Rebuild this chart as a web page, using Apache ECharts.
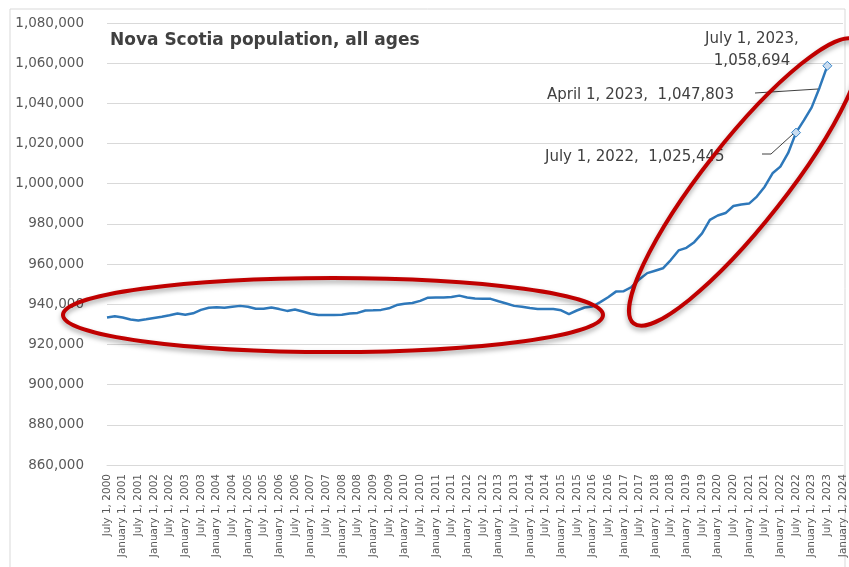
<!DOCTYPE html>
<html><head><meta charset="utf-8">
<script src="https://cdn.jsdelivr.net/npm/echarts@6/dist/echarts.min.js"></script>
<style>html,body{margin:0;padding:0;background:#fff}#c{width:849px;height:567px}</style>
</head><body><div id="c"></div>
<script>
// Quarterly categories: July 1, 2000 ... January 1, 2024
var quarterMonths = ['July', 'October', 'January', 'April'];
var categories = [];
for (var k = 0; k < 95; k++) {
  var m = quarterMonths[k % 4];
  var yr = 2000 + Math.floor((k + 2) / 4);
  categories.push(m + ' 1, ' + yr);
}
var population = [
  933400, 934000, 933400, 932400, 931900, 932500, 933200, 933800, 934500, 935400,
  934800, 935500, 937200, 938300, 938500, 938300, 938800, 939200, 938800, 937800,
  937800, 938400, 937600, 936700, 937400, 936400, 935300, 934700, 934700, 934700,
  934800, 935400, 935700, 936900, 937000, 937200, 938000, 939600, 940300, 940600,
  941700, 943300, 943400, 943400, 943600, 944300, 943400, 942900, 942800, 942700,
  941500, 940400, 939200, 938800, 938100, 937700, 937600, 937600, 937000, 935100,
  936900, 938400, 938900, 941100, 943500, 946300, 946500, 948600, 952500, 955500,
  956700, 957900, 962000, 966800, 968100, 970900, 975300, 982000, 984200, 985400,
  988900, 989700, 990100, 993600, 998500, 1005200, 1008500, 1015300, 1025445, 1031500,
  1038000, 1047803, 1058694, null, null
];
var markedIndices = [88, 91, 92];
var annotationTexts = ['July 1, 2023,\n1,058,694', 'April 1, 2023,  1,047,803', 'July 1, 2022,  1,025,445'];
var titleText = 'Nova Scotia population, all ages';
var yMin = 860000, yMax = 1080000, yStep = 20000;

var seriesData = population.map(function (v, i) {
  if (markedIndices.indexOf(i) >= 0) {
    return { value: v, symbol: 'diamond', symbolSize: 9,
      itemStyle: { color: '#c9dcf0', borderColor: '#3a86c8', borderWidth: 1 } };
  }
  return v;
});

var FONT = 'DejaVu Sans';
var chart = echarts.init(document.getElementById('c'), null, { renderer: 'canvas' });
chart.setOption({
  animation: false,
  backgroundColor: '#ffffff',
  title: {
    text: titleText, left: 105, top: 27,
    textStyle: { fontFamily: FONT, fontSize: 17, fontWeight: 'bold', color: '#404040' }
  },
  grid: { left: 107, right: 6, top: 23, bottom: 102, containLabel: false },
  xAxis: {
    type: 'category', data: categories, boundaryGap: false,
    axisLine: { lineStyle: { color: '#d9d9d9', width: 1 } },
    axisTick: { show: false },
    axisLabel: { interval: 1, rotate: 90, fontFamily: FONT, fontSize: 10.5, color: '#595959', margin: 9 },
    splitLine: { show: false }
  },
  yAxis: {
    type: 'value', min: yMin, max: yMax, interval: yStep,
    axisLine: { show: false }, axisTick: { show: false },
    axisLabel: {
      fontFamily: FONT, fontSize: 13.5, color: '#595959', margin: 23,
      formatter: function (v) { return v.toLocaleString('en-US'); }
    },
    splitLine: { lineStyle: { color: '#d9d9d9', width: 1 } }
  },
  series: [{
    type: 'line', data: seriesData, symbol: 'none', showSymbol: true,
    connectNulls: false,
    lineStyle: { color: '#2e78ba', width: 2.5 },
    itemStyle: { color: '#2e78ba' },
    z: 3
  }],
  graphic: [
    { type: 'rect', shape: { x: 10, y: 9, width: 835, height: 570 }, style: { fill: 'none', stroke: '#d9d9d9', lineWidth: 1 }, silent: true, z: 0 },
    { type: 'text', x: 752, y: 28, style: { text: annotationTexts[0], textAlign: 'center', fontFamily: FONT, fontSize: 15, lineHeight: 22, fill: '#404040' }, z: 10 },
    { type: 'text', x: 547, y: 95, style: { text: annotationTexts[1], textAlign: 'left', textVerticalAlign: 'middle', fontFamily: FONT, fontSize: 15, fill: '#404040' }, z: 10 },
    { type: 'text', x: 545, y: 157, style: { text: annotationTexts[2], textAlign: 'left', textVerticalAlign: 'middle', fontFamily: FONT, fontSize: 15, fill: '#404040' }, z: 10 },
    { type: 'polyline', shape: { points: [[755, 93], [818, 89]] }, style: { stroke: '#404040', lineWidth: 1, fill: 'none' }, z: 10 },
    { type: 'polyline', shape: { points: [[762, 154], [771, 154], [793, 134]] }, style: { stroke: '#404040', lineWidth: 1, fill: 'none' }, z: 10 },
    { type: 'ellipse', x: 333, y: 315, shape: { cx: 0, cy: 0, rx: 270, ry: 37 },
      style: { fill: 'none', stroke: '#c00000', lineWidth: 4, shadowBlur: 5, shadowColor: 'rgba(0,0,0,0.35)', shadowOffsetY: 3 }, z: 20 },
    { type: 'ellipse', x: 745, y: 182, rotation: 0.904, shape: { cx: 0, cy: 0, rx: 180, ry: 41 },
      style: { fill: 'none', stroke: '#c00000', lineWidth: 4, shadowBlur: 5, shadowColor: 'rgba(0,0,0,0.35)', shadowOffsetY: 3 }, z: 20 }
  ]
});
</script></body></html>
